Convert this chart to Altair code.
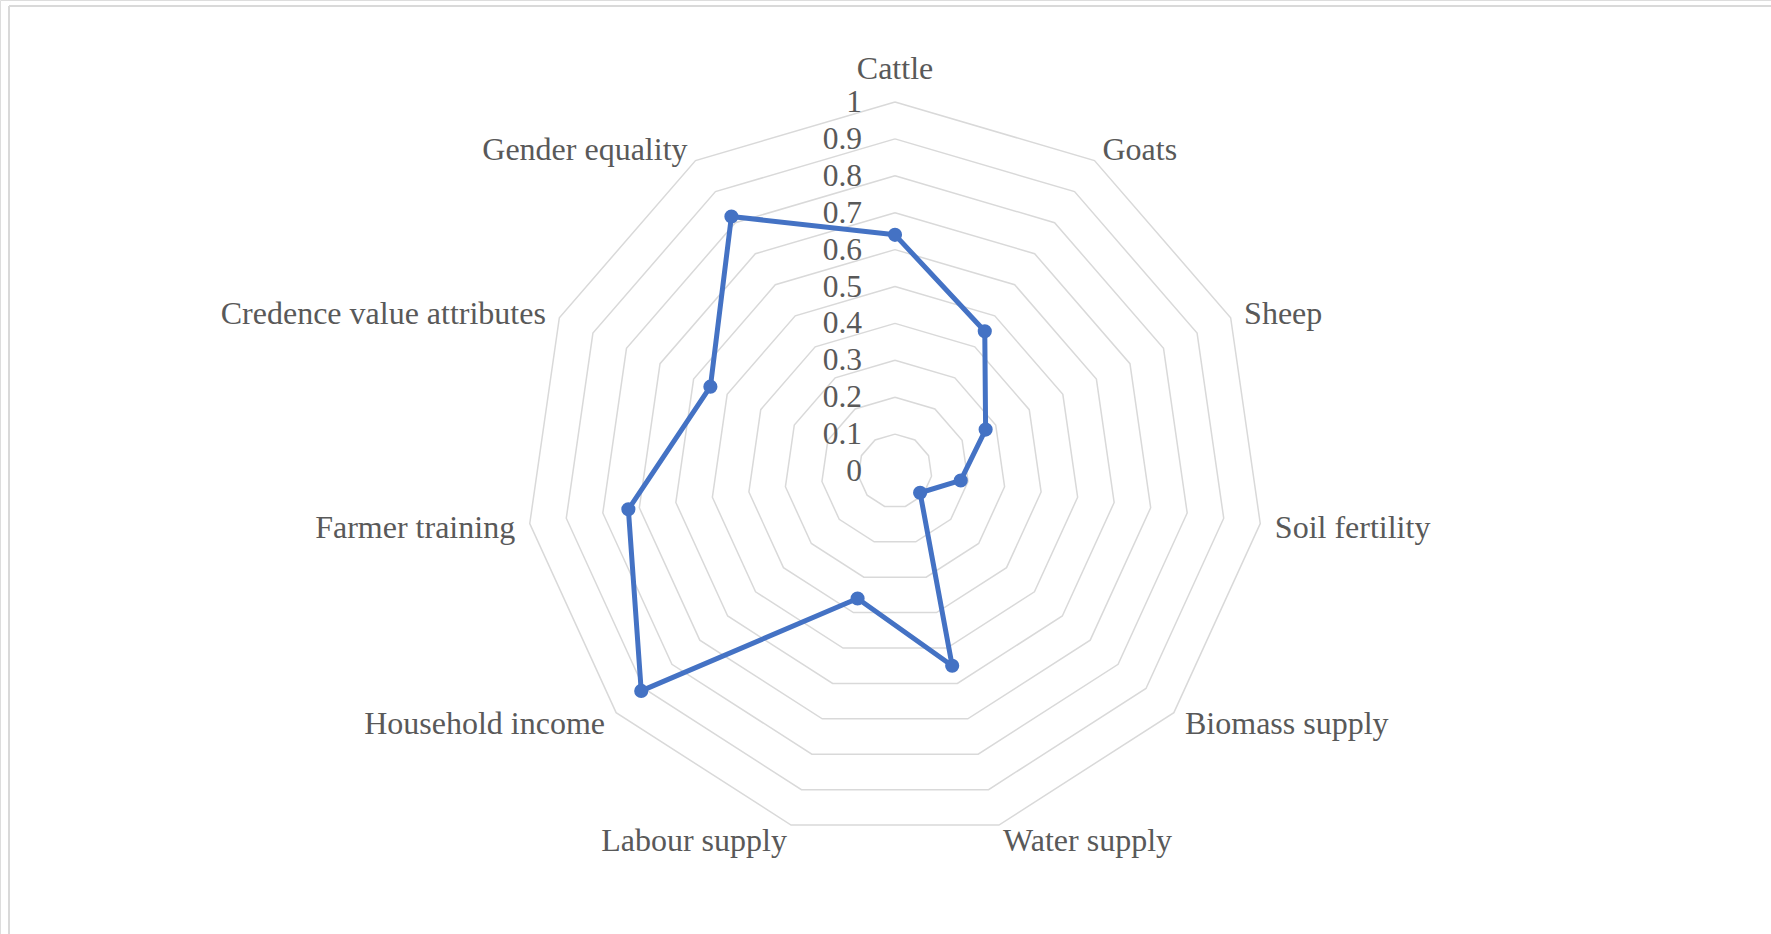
import math

import altair as alt
import pandas as pd

# Radar chart: scores for each livelihood / value attribute
categories = [
    "Cattle", "Goats", "Sheep", "Soil fertility", "Biomass supply",
    "Water supply", "Labour supply", "Household income", "Farmer training",
    "Credence value attributes", "Gender equality",
]
values = [0.64, 0.45, 0.27, 0.18, 0.09, 0.55, 0.36, 0.91, 0.73, 0.55, 0.82]

ring_levels = [0.1, 0.2, 0.3, 0.4, 0.5, 0.6, 0.7, 0.8, 0.9, 1.0]
tick_values = [0, 0.1, 0.2, 0.3, 0.4, 0.5, 0.6, 0.7, 0.8, 0.9, 1.0]
tick_labels = ["0", "0.1", "0.2", "0.3", "0.4", "0.5", "0.6", "0.7", "0.8", "0.9", "1"]

# Canvas and polar frame (pixels)
W, H = 1771, 934
CX, CY, R = 895, 471, 369
FONT = "Liberation Serif"
TEXT_COLOR = "#595959"
GRID_COLOR = "#D9D9D9"
LINE_COLOR = "#4472C4"

n = len(categories)
step = 2 * math.pi / n

x_scale = alt.Scale(domain=[-CX / R, (W - CX) / R], range=[0, W], nice=False, zero=False)
y_scale = alt.Scale(domain=[-(H - CY) / R, CY / R], range=[H, 0], nice=False, zero=False)


def xy(field_x="x", field_y="y"):
    return dict(
        x=alt.X(f"{field_x}:Q", scale=x_scale, axis=None),
        y=alt.Y(f"{field_y}:Q", scale=y_scale, axis=None),
    )


# Series table (closed loop: first category repeated at the end)
series = pd.DataFrame({"category": categories, "value": values, "k": range(n)})
series_closed = pd.concat([series, series.iloc[[0]].assign(k=n)], ignore_index=True)

polar = dict(
    x=f"datum.value * sin(datum.k * {step})",
    y=f"datum.value * cos(datum.k * {step})",
)

# Concentric polygon grid
grid_rows = [
    {"level": lv, "k": k} for lv in ring_levels for k in range(n + 1)
]
grid = pd.DataFrame(grid_rows)

grid_layer = (
    alt.Chart(grid)
    .transform_calculate(
        x=f"datum.level * sin(datum.k * {step})",
        y=f"datum.level * cos(datum.k * {step})",
    )
    .mark_line(color=GRID_COLOR, strokeWidth=1.5)
    .encode(**xy(), detail="level:N", order="k:Q")
)

# Value-axis labels along the top spoke
ticks = pd.DataFrame({"level": tick_values, "label": tick_labels})
tick_layer = (
    alt.Chart(ticks)
    .transform_calculate(x="0", y="datum.level")
    .mark_text(align="right", baseline="middle", dx=-33, dy=1,
               font=FONT, fontSize=31.5, color=TEXT_COLOR)
    .encode(**xy(), text="label:N")
)

# Category labels around the outer ring
labels = series.copy()
labels["side"] = [
    "center" if abs(math.sin(k * step)) < 1e-6 else ("left" if math.sin(k * step) > 0 else "right")
    for k in labels["k"]
]

label_layers = []
for side in ["left", "right"]:
    label_layers.append(
        alt.Chart(labels)
        .transform_filter(alt.datum.side == side)
        .transform_calculate(
            x=f"1.04 * sin(datum.k * {step})",
            y=f"1.04 * cos(datum.k * {step})",
        )
        .mark_text(align=side, baseline="middle", dy=2,
                   font=FONT, fontSize=32, color=TEXT_COLOR)
        .encode(**xy(), text="category:N")
    )
label_layers.append(
    alt.Chart(labels)
    .transform_filter(alt.datum.side == "center")
    .transform_calculate(x="0", y="1.062")
    .mark_text(align="center", baseline="alphabetic",
               font=FONT, fontSize=32, color=TEXT_COLOR)
    .encode(**xy(), text="category:N")
)

series_line = (
    alt.Chart(series_closed)
    .transform_calculate(**polar)
    .mark_line(color=LINE_COLOR, strokeWidth=5, strokeJoin="round")
    .encode(**xy(), order="k:Q")
)

series_points = (
    alt.Chart(series)
    .transform_calculate(**polar)
    .mark_circle(color=LINE_COLOR, size=200, opacity=1)
    .encode(**xy())
)

# Chart-area border (top and left edges)
border_top = alt.Chart(series.iloc[[0]]).mark_rule(color=GRID_COLOR, strokeWidth=2).encode(
    x=alt.value(9), x2=alt.value(W), y=alt.value(6)
)
border_left = alt.Chart(series.iloc[[0]]).mark_rule(color=GRID_COLOR, strokeWidth=2).encode(
    x=alt.value(9), y=alt.value(6), y2=alt.value(H)
)

chart = (
    alt.layer(
        border_top, border_left, grid_layer, tick_layer, *label_layers,
        series_line, series_points,
    )
    .properties(width=W, height=H, autosize=alt.AutoSizeParams(type="none"), padding=0)
    .configure_view(stroke=None)
    .configure(background="white")
)

chart.save("out.html", embed_options={"renderer": "svg", "actions": False})
